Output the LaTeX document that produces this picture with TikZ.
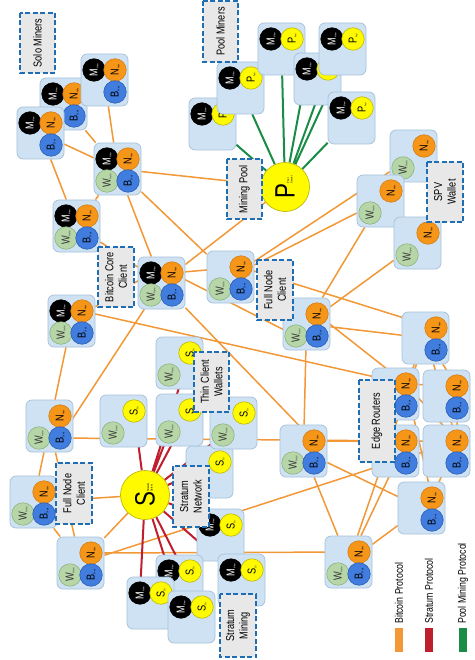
\documentclass[tikz,border=0pt]{standalone}
\usepackage{fontspec}
\setmainfont{Liberation Sans}[FakeStretch=0.8]
\definecolor{boxf}{RGB}{207,226,243}
\definecolor{boxd}{RGB}{165,192,218}
\definecolor{corg}{RGB}{245,150,25}
\definecolor{corgd}{RGB}{215,125,20}
\definecolor{cblu}{RGB}{65,125,222}
\definecolor{cblud}{RGB}{45,95,180}
\definecolor{cgrn}{RGB}{183,214,168}
\definecolor{cgrnd}{RGB}{140,180,125}
\definecolor{cyel}{RGB}{255,250,0}
\definecolor{cyeld}{RGB}{190,185,0}
\definecolor{labf}{RGB}{232,232,232}
\definecolor{labd}{RGB}{31,110,180}
\definecolor{lbtc}{RGB}{242,152,55}
\definecolor{lstr}{RGB}{190,30,45}
\definecolor{lpool}{RGB}{25,140,70}
\pgfdeclarelayer{bg}
\pgfsetlayers{bg,main}
\newcommand{\sbx}[1]{\raisebox{-0.8pt}{\fontsize{2.4}{3}\selectfont #1}}
\newcommand{\cirM}[2]{\node[circM] (#1m) at ([shift={(#2)}]#1.center) {M\sbx{Miner}};}
\newcommand{\cirN}[2]{\node[circN] (#1n) at ([shift={(#2)}]#1.center) {N\sbx{Node}};}
\newcommand{\cirB}[2]{\node[circB] (#1b) at ([shift={(#2)}]#1.center) {B\sbx{Chain}};}
\newcommand{\cirW}[2]{\node[circW] (#1w) at ([shift={(#2)}]#1.center) {W\sbx{Wallet}};}
\newcommand{\cirP}[2]{\node[circY] (#1p) at ([shift={(#2)}]#1.center) {P\sbx{Pool}};}
\newcommand{\cirS}[2]{\node[circY] (#1s) at ([shift={(#2)}]#1.center) {S\sbx{Str.}};}
\newcommand{\bxMNWB}[3]{\node[nbox] (#1) at (#2,#3) {};\cirM{#1}{-10.5,-10}\cirN{#1}{10.5,-10}\cirW{#1}{-10.5,12}\cirB{#1}{10.5,12}}
\newcommand{\bxMNB}[3]{\node[nbox] (#1) at (#2,#3) {};\cirM{#1}{-10.5,-10}\cirN{#1}{10.5,-10}\cirB{#1}{10.5,12}}
\newcommand{\bxNWB}[3]{\node[nbox] (#1) at (#2,#3) {};\cirN{#1}{10.5,-10}\cirW{#1}{-10.5,12}\cirB{#1}{10.5,12}}
\newcommand{\bxNB}[3]{\node[nbox] (#1) at (#2,#3) {};\cirN{#1}{10.5,-10}\cirB{#1}{10.5,12}}
\newcommand{\bxNW}[3]{\node[nbox] (#1) at (#2,#3) {};\cirN{#1}{10.5,-10}\cirW{#1}{-10.5,12}}
\newcommand{\bxMP}[3]{\node[nbox] (#1) at (#2,#3) {};\cirM{#1}{-10.5,-10}\cirP{#1}{10.5,-10}}
\newcommand{\bxMS}[3]{\node[nbox] (#1) at (#2,#3) {};\cirM{#1}{-10.5,-10}\cirS{#1}{10.5,-10}}
\newcommand{\bxWS}[3]{\node[nbox] (#1) at (#2,#3) {};\cirS{#1}{10.5,-10}\cirW{#1}{-10.5,12}}
\newcommand{\bxSo}[3]{\node[nbox] (#1) at (#2,#3) {};\cirS{#1}{10.5,-10}}
\newcommand{\srvt}[3]{{\fontsize{28}{28}\selectfont #1}\raisebox{2pt}{\fontsize{3}{3.6}\selectfont\begin{tabular}[b]{@{}l@{}}#2\\#3\end{tabular}}}
\begin{document}
\begin{tikzpicture}[x=1pt,y=-1pt,
  nbox/.style={draw=boxd, fill=boxf, rounded corners=6pt, line width=0.7pt, minimum width=47pt, minimum height=52pt, inner sep=0pt},
  circ/.style={circle, minimum size=22.5pt, inner sep=0pt, line width=0.6pt, rotate=90, font=\fontsize{11.5}{11.5}\selectfont},
  circM/.style={circ, fill=black, draw=black, text=white},
  circN/.style={circ, fill=corg, draw=corgd},
  circB/.style={circ, fill=cblu, draw=cblud},
  circW/.style={circ, fill=cgrn, draw=cgrnd, text=black!80},
  circY/.style={circ, fill=cyel, draw=cyeld},
  srv/.style={circle, fill=cyel, draw=cyeld, line width=0.7pt, minimum size=49pt, inner sep=0pt, rotate=90},
  lbl/.style={draw=labd, fill=labf, line width=2.2pt, dash pattern=on 5pt off 2.5pt, rotate=90, align=center, inner sep=0pt, font=\fontsize{11.5}{13.5}\selectfont},
  btc/.style={draw=lbtc, line width=1.5pt},
  strat/.style={draw=lstr, line width=2pt},
  pool/.style={draw=lpool, line width=2pt},
  legt/.style={rotate=90, anchor=west, inner sep=0pt, font=\fontsize{11}{12}\selectfont}
]
\useasboundingbox (0,0) rectangle (474,660);
% solo miners
\bxMNB{s2}{63.5}{104}
\bxMNB{s1}{104.5}{80}
\bxMNB{s3}{40.5}{133}
\bxMNWB{s4}{117.5}{169}
\bxMNWB{s5}{76.5}{226}
\bxMNWB{bc}{161.5}{283}
\bxMNWB{c1}{71.5}{321}
% pool miners
\bxMP{p5}{212.5}{124}
\bxMP{p3}{240.5}{88}
\bxMP{p1}{281.5}{49}
\bxMP{p4}{317.5}{79}
\bxMP{p2}{342.5}{49}
\bxMP{p6}{351.5}{118}
% spv
\bxNW{spv1}{413.5}{156}
\bxNW{spv2}{380.5}{201}
\bxNW{spv3}{417.5}{243}
% full nodes middle
\bxNWB{fn1}{230.5}{277}
\bxNWB{fn2}{306.5}{324}
\bxNWB{fn3}{303.5}{451}
\bxNWB{r3}{348.5}{562}
\bxNB{r1}{425.5}{338}
\bxNB{e1}{395.5}{394}
\bxNB{e2}{446.5}{396}
\bxNB{e3}{395.5}{451}
\bxNB{e4}{446.5}{451}
\bxNB{r2}{421.5}{508}
% thin clients
\bxSo{t5}{209.5}{472}
\bxWS{t1}{179.5}{363}
\bxWS{t2}{179.5}{420}
\bxWS{t3}{123.5}{421}
\bxWS{t4}{233.5}{423}
% left full nodes
\bxNWB{l1}{49.5}{426}
\bxNWB{l2}{33.5}{502}
\bxNWB{l3}{80.5}{563}
% stratum miners
\bxMS{sm1}{220.5}{535}
\bxMS{sm2}{179.5}{581}
\bxMS{sm3}{150.5}{603}
\bxMS{sm4}{191.5}{617}
\bxMS{sm5}{241.5}{580}
% servers
\node[srv] (pserv) at (285,187) {\srvt{P}{Pool}{Server}};
\node[srv] (sserv) at (145,495) {\srvt{S}{Stratum}{Server}};
% labels
\node[lbl, minimum width=60pt, minimum height=35pt] (lsolo) at (37.5,43) {Solo Miners};
\node[lbl, minimum width=61pt, minimum height=35pt] (lpoolm) at (220.5,31.5) {Pool Miners};
\node[lbl, minimum width=60pt, minimum height=35pt] (lmpool) at (244.5,189) {Mining Pool};
\node[lbl, minimum width=60pt, minimum height=36pt] (lspv) at (445,192) {SPV\\Wallet};
\node[lbl, minimum width=60pt, minimum height=36pt] (lbcc) at (116,277) {Bitcoin Core\\Client};
\node[lbl, minimum width=60pt, minimum height=36pt] (lfnm) at (275,290) {Full Node\\Client};
\node[lbl, minimum width=60pt, minimum height=35pt] (lthin) at (211.5,382) {Thin Client\\Wallets};
\node[lbl, minimum width=82pt, minimum height=36pt] (ledge) at (377,421) {Edge Routers};
\node[lbl, minimum width=61pt, minimum height=36pt] (lfnl) at (74,493.5) {Full Node\\Client};
\node[lbl, minimum width=61pt, minimum height=36pt] (lsnet) at (191,496.5) {Stratum\\Network};
\node[lbl, minimum width=63pt, minimum height=36pt] (lsmin) at (238,625.5) {Stratum\\Mining};
% legend
\node[fill=lbtc, minimum width=8pt, minimum height=24pt, inner sep=0pt] (legb) at (399,640) {};
\node[fill=lstr, minimum width=8pt, minimum height=24pt, inner sep=0pt] (legs) at (429,640) {};
\node[fill=lpool, minimum width=8pt, minimum height=24pt, inner sep=0pt] (legp) at (463,640) {};
\node[legt] (legbt) at (399,624) {Bitcoin Protocol};
\node[legt] (legst) at (429,624) {Stratum Protocol};
\node[legt] (legpt) at (463,624) {Pool Mining Protocol};
% connectors
\begin{pgfonlayer}{bg}
\fill[white] (0,0) rectangle (474,660);
\draw[btc] (s3)--(s4) (s2)--(s4) (s1)--(s4) (s3)--(s5) (s5)--(s4);
\draw[btc] (s4)--(pserv) (s4)--(fn1) (s4)--(bc) (s5)--(bc) (bc)--(pserv);
\draw[btc] (bcn)--(fn1n) (bcn)--(fn2w) (bc)--(fn3n) (bc)--(l1b) (c1)--(bcm) (c1n)--(e1n) (c1)--(l1);
\draw[btc] (fn1)--(spv1) (fn1)--(spv2) (fn1n)--(r1n) (fn2)--(spv2) (fn2)--(spv3) (fn2)--(r1) (fn2n)--(e1n) (fn2)--(fn3);
\draw[btc] (l1b)--(e3n) (l1)--(l2) (l1)--(l3) (l2)--(l3) (l2)--(sserv) (l3)--(sserv) (l3)--(e4n) (l3n)--(r3n);
\draw[btc] (fn3n)--(e3n) (fn3)--(r2) (fn3)--(r3) (r3)--(e3n) (r3)--(r1) (r3)--(r2);
\draw[btc] (r1)--(e1n) (r1)--(e2n) (r1)--(e4n) (e1n)--(e2n) (e3n)--(e4n) (e2n)--(e4n) (e1n)--(e4n) (e1n)--(r2n) (e4n)--(r2n);
\draw[pool] (pserv)--(p5) (pserv)--(p3) (pserv)--(p1) (pserv)--(p4m) (pserv)--(p4p) (pserv)--(p2p) (pserv)--(p6);
\draw[strat] (sserv)--(t3s) (sserv)--(t2w) (sserv)--(t2s) (sserv)--(t1s) (sserv)--(t5s) (sserv)--(t4w);
\draw[strat] (sserv)--(sm1s) (sserv)--(sm5m) (sserv)--(sm2m) (sserv)--(sm3m) (sserv)--(sm4s);
\end{pgfonlayer}
\end{tikzpicture}
\end{document}
